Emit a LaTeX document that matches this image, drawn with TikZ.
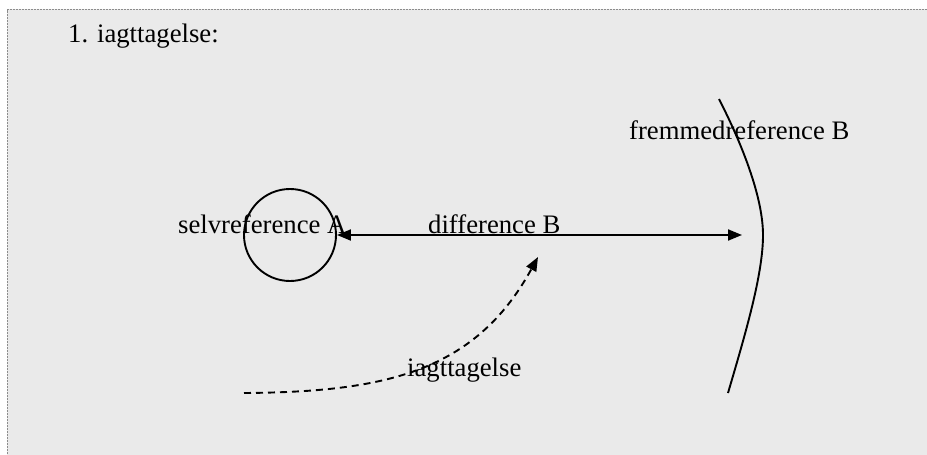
\documentclass[tikz,border=0pt]{standalone}
\usepackage{fontspec}
\setmainfont{Liberation Serif}
\usetikzlibrary{arrows.meta}
\definecolor{bgray}{HTML}{EAEAEA}
\definecolor{fgray}{HTML}{8C8C8C}
\tikzset{
  lbl/.style={anchor=base west, inner sep=0pt, font=\fontsize{26.7}{32}\selectfont},
  solidline/.style={line width=1.9pt, black},
  tip/.style={-{Triangle[length=14pt,width=11pt]}},
  dashline/.style={line width=1.9pt, dash pattern=on 7pt off 5pt},
}
\begin{document}
\begin{tikzpicture}[x=1pt,y=-1pt]
\useasboundingbox (0,0) rectangle (927,455);
\fill[bgray] (7,9) rectangle (927,455);
\draw[fgray, line width=1pt, dash pattern=on 2pt off 1pt] (927,9.5) -- (7.5,9.5) -- (7.5,455);
\node[lbl] (title) at (68,42) {1. iagttagelse:};
\node[draw, solidline, circle, minimum size=92pt, inner sep=0pt] (A) at (290,235) {};
\node[lbl] (selv) at (178,233) {selvreference A};
\node[lbl] (diff) at (428,233) {difference B};
\node[lbl] (frem) at (629,139) {fremmedreference B};
\node[lbl] (iagt) at (407,376) {iagttagelse};
\coordinate (Btop) at (719,99);
\coordinate (Bmid) at (763,235);
\coordinate (Bbot) at (728,393);
\coordinate (Btip) at (742,235);
\coordinate (Ostart) at (244,393);
\coordinate (Otip) at (538,257);
\draw[solidline] (Btop) .. controls (745,150) and (763,200) .. (Bmid) .. controls (763,275) and (745,335) .. (Bbot);
\draw[solidline, {Triangle[length=14pt,width=11pt]}-{Triangle[length=14pt,width=11pt]}] (A.east) -- (Btip);
\draw[dashline, tip] (Ostart) .. controls (385,392) and (475,372) .. (Otip);
\end{tikzpicture}
\end{document}
